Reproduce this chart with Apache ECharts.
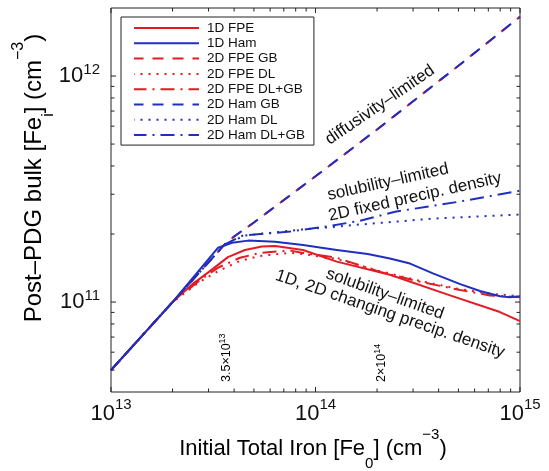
<!DOCTYPE html>
<html>
<head>
<meta charset="utf-8">
<script src="https://cdn.jsdelivr.net/npm/echarts@6/dist/echarts.min.js"></script>
<style>html,body{margin:0;padding:0;background:#fff;}#c{width:549px;height:471px;}</style>
</head>
<body>
<div id="c"></div>
<script>
// ---- data ----
const seriesNames = ['1D FPE', '1D Ham', '2D FPE GB', '2D FPE DL', '2D FPE DL+GB', '2D Ham GB', '2D Ham DL', '2D Ham DL+GB'];

const fpe1dX = [1e13, 2e13, 2.5e13, 2.98e13, 3.73e13, 4.52e13, 5.47e13, 6.34e13, 8.69e13, 1.27e14, 2.31e14, 4.55e14, 7.98e14, 1e15];
const fpe1dY = [5e10, 1e11, 1.2e11, 1.35e11, 1.58e11, 1.70e11, 1.76e11, 1.77e11, 1.70e11, 1.51e11, 1.32e11, 1.07e11, 9.03e10, 8.24e10];

const ham1dX = [1e13, 2e13, 3.34e13, 3.91e13, 4.68e13, 6.34e13, 8.69e13, 1.27e14, 1.8e14, 2.31e14, 2.9e14, 3.75e14, 5.1e14, 6.37e14, 7.98e14, 8.93e14, 1e15];
const ham1dY = [5e10, 1e11, 1.74e11, 1.83e11, 1.87e11, 1.85e11, 1.79e11, 1.70e11, 1.63e11, 1.56e11, 1.48e11, 1.34e11, 1.2e11, 1.12e11, 1.06e11, 1.05e11, 1.06e11];

const fpeGBX = [1e13, 2e13, 3.6e13, 4e13, 5e13, 1e14, 2e14, 5e14, 1e15];
const fpeGBY = [5e10, 1e11, 1.8e11, 1.95e11, 2.25e11, 3.6e11, 5.8e11, 1.11e12, 1.83e12];

const fpeDLX = [1e13, 2e13, 2.72e13, 3.34e13, 4.27e13, 5.36e13, 7.5e13, 8.69e13, 1.27e14, 2.07e14, 3.24e14, 5.1e14, 7.13e14, 1e15];
const fpeDLY = [5e10, 1e11, 1.23e11, 1.37e11, 1.52e11, 1.60e11, 1.65e11, 1.63e11, 1.55e11, 1.37e11, 1.24e11, 1.14e11, 1.09e11, 1.06e11];

const fpeDLGBX = [1e13, 2e13, 2.72e13, 3.34e13, 4.27e13, 5.36e13, 7.5e13, 8.69e13, 1.27e14, 2.07e14, 3.24e14, 5.1e14, 7.13e14, 1e15];
const fpeDLGBY = [5e10, 1e11, 1.25e11, 1.42e11, 1.57e11, 1.65e11, 1.69e11, 1.65e11, 1.57e11, 1.36e11, 1.23e11, 1.13e11, 1.07e11, 1.05e11];

const hamGBX = [1e13, 2e13, 3.6e13, 4e13, 5e13, 1e14, 2e14, 5e14, 1e15];
const hamGBY = [5e10, 1e11, 1.8e11, 1.95e11, 2.25e11, 3.6e11, 5.8e11, 1.11e12, 1.83e12];

const hamDLX = [1e13, 2e13, 3.6e13, 4.52e13, 8.4e13, 1.22e14, 1.52e14, 3.76e14, 1e15];
const hamDLY = [5e10, 1e11, 1.8e11, 1.97e11, 2.09e11, 2.15e11, 2.19e11, 2.34e11, 2.44e11];

const hamDLGBX = [1e13, 2e13, 3.6e13, 4.42e13, 7.5e13, 1.21e14, 1.65e14, 2.45e14, 5.03e14, 1e15];
const hamDLGBY = [5e10, 1e11, 1.8e11, 1.97e11, 2.05e11, 2.18e11, 2.29e11, 2.51e11, 2.78e11, 3.11e11];

// axis ranges and ticks
const X_MIN = 1e13, X_MAX = 1e15, Y_MIN = 4e10, Y_MAX = 2e12;
const xMajorTicks = [1e13, 1e14, 1e15];
const xMinorTicks = [2e13, 3e13, 4e13, 5e13, 6e13, 7e13, 8e13, 9e13, 2e14, 3e14, 4e14, 5e14, 6e14, 7e14, 8e14, 9e14];
const yMajorTicks = [1e11, 1e12];
const yMinorTicks = [5e10, 6e10, 7e10, 8e10, 9e10, 2e11, 3e11, 4e11, 5e11, 6e11, 7e11, 8e11, 9e11];
const markerValues = [3.5e13, 2e14];
const markerLabels = ['{b|3.5×10}{s|13}', '{b|2×10}{s|14}'];

// ---- chart ----
const FONT = '"Liberation Sans", Arial, Helvetica, sans-serif';
const RED = '#e31b23', BLUE = '#1f2fc0';
const DASH = [11, 9], DOT = [2, 6], DASHDOT = [14, 6, 2, 6];

function pairs(xs, ys) { return xs.map((x, i) => [x, ys[i]]); }
function lineSeries(name, xs, ys, color, type, extra) {
  return Object.assign({
    name: name, type: 'line', data: pairs(xs, ys), showSymbol: false, symbol: 'none',
    smooth: false, silent: true,
    lineStyle: { color: color, width: 2, type: type, cap: 'butt', join: 'round' },
    itemStyle: { color: color }
  }, extra || {});
}

const tickData = [].concat(
  xMajorTicks.map(v => [v, Y_MIN, 0]),
  xMinorTicks.map(v => [v, Y_MIN, 1]),
  yMajorTicks.map(v => [X_MIN, v, 2]),
  yMinorTicks.map(v => [X_MIN, v, 3])
);

function powLabel(value) {
  const e = Math.log10(value);
  const r = Math.round(e);
  if (Math.abs(e - r) > 1e-6) return '';
  return '{b|10}{s|' + r + '}';
}

const chart = echarts.init(document.getElementById('c'), null, { renderer: 'canvas' });
const option = {
  animation: false,
  backgroundColor: '#fff',
  textStyle: { fontFamily: FONT },
  grid: { left: 111, right: 29, top: 8, bottom: 79, show: true, borderColor: '#222', borderWidth: 1, backgroundColor: 'transparent' },
  legend: {
    data: seriesNames, orient: 'vertical', left: 121, top: 17,
    itemWidth: 65, itemHeight: 14, itemGap: 1.3,
    padding: [4, 9, 3, 12],
    borderColor: '#222', borderWidth: 1, backgroundColor: '#fff',
    itemStyle: { opacity: 0, borderWidth: 0 },
    textStyle: { fontSize: 13.5, color: '#111', fontFamily: FONT, lineHeight: 14, padding: [0, 0, 0, 3] },
    selectedMode: false
  },
  xAxis: {
    type: 'log', logBase: 10, min: X_MIN, max: X_MAX,
    axisLine: { show: false }, axisTick: { show: false }, splitLine: { show: false },
    axisLabel: {
      formatter: powLabel, margin: 5, color: '#111',
      rich: {
        b: { fontSize: 22, lineHeight: 34, fontFamily: FONT, color: '#111' },
        s: { fontSize: 15, lineHeight: 12, verticalAlign: 'top', fontFamily: FONT, color: '#111' }
      }
    }
  },
  yAxis: {
    type: 'log', logBase: 10, min: Y_MIN, max: Y_MAX,
    axisLine: { show: false }, axisTick: { show: false }, splitLine: { show: false },
    axisLabel: {
      formatter: powLabel, margin: 11, color: '#111',
      rich: {
        b: { fontSize: 22, lineHeight: 28, fontFamily: FONT, color: '#111' },
        s: { fontSize: 15, lineHeight: 12, verticalAlign: 'top', fontFamily: FONT, color: '#111' }
      }
    }
  },
  series: [
    lineSeries('1D FPE', fpe1dX, fpe1dY, RED, 'solid'),
    lineSeries('2D FPE GB', fpeGBX, fpeGBY, RED, DASH, { lineStyle: { color: RED, width: 2, type: DASH, dashOffset: 1.5, cap: 'butt' } }),
    lineSeries('2D FPE DL', fpeDLX, fpeDLY, RED, DOT),
    lineSeries('2D FPE DL+GB', fpeDLGBX, fpeDLGBY, RED, DASHDOT),
    lineSeries('1D Ham', ham1dX, ham1dY, BLUE, 'solid'),
    lineSeries('2D Ham GB', hamGBX, hamGBY, BLUE, DASH),
    lineSeries('2D Ham DL', hamDLX, hamDLY, BLUE, DOT),
    lineSeries('2D Ham DL+GB', hamDLGBX, hamDLGBY, BLUE, DASHDOT),
    {
      name: 'ticks', type: 'custom', silent: true, data: tickData, z: 5,
      renderItem: function (params, api) {
        const xv = api.value(0), yv = api.value(1), kind = api.value(2);
        const len = (kind === 0 || kind === 2) ? 5 : 3.5;
        const st = { stroke: '#222', lineWidth: 1 };
        if (kind < 2) {
          const b = api.coord([xv, Y_MIN]), t = api.coord([xv, Y_MAX]);
          return { type: 'group', children: [
            { type: 'line', shape: { x1: b[0], y1: b[1], x2: b[0], y2: b[1] - len }, style: st },
            { type: 'line', shape: { x1: t[0], y1: t[1], x2: t[0], y2: t[1] + len }, style: st }
          ] };
        }
        const l = api.coord([X_MIN, yv]), r = api.coord([X_MAX, yv]);
        return { type: 'group', children: [
          { type: 'line', shape: { x1: l[0], y1: l[1], x2: l[0] + len, y2: l[1] }, style: st },
          { type: 'line', shape: { x1: r[0], y1: r[1], x2: r[0] - len, y2: r[1] }, style: st }
        ] };
      }
    }
  ]
};
chart.setOption(option);

const xTitleRich = {
  b: { fontSize: 22, lineHeight: 44, fontFamily: FONT, color: '#111' },
  sub: { fontSize: 15, lineHeight: 20, verticalAlign: 'bottom', fontFamily: FONT, color: '#111' },
  sup: { fontSize: 15, lineHeight: 15, verticalAlign: 'top', fontFamily: FONT, color: '#111' }
};
const yTitleRich = {
  b: { fontSize: 24, lineHeight: 46, fontFamily: FONT, color: '#111' },
  sub: { fontSize: 16, lineHeight: 22, verticalAlign: 'bottom', fontFamily: FONT, color: '#111' },
  sup: { fontSize: 16, lineHeight: 14, verticalAlign: 'top', fontFamily: FONT, color: '#111' }
};
const markRich = {
  b: { fontSize: 12.5, lineHeight: 17, fontFamily: FONT, color: '#111' },
  s: { fontSize: 9, lineHeight: 8, verticalAlign: 'top', fontFamily: FONT, color: '#111' }
};
const annStyle = (t) => ({ text: t, fontSize: 17, fontFamily: FONT, fill: '#111', align: 'center', verticalAlign: 'middle' });

const graphics = [
  { type: 'text', x: 313, y: 449, style: { text: '{b|Initial Total Iron [Fe}{sub|0}{b|] (cm}{sup|−3}{b|)}', rich: xTitleRich, align: 'center', verticalAlign: 'middle' } },
  { type: 'text', x: 34, y: 178, rotation: Math.PI / 2, style: { text: '{b|Post–PDG bulk [Fe}{sub|i}{b|] (cm}{sup|−3}{b|)}', rich: yTitleRich, align: 'center', verticalAlign: 'middle' } },
  { type: 'text', x: 380, y: 105, rotation: 0.60, style: annStyle('diffusivity–limited') },
  { type: 'text', x: 388, y: 182, rotation: 0.22, style: annStyle('solubility–limited') },
  { type: 'text', x: 415, y: 197, rotation: 0.22, style: annStyle('2D fixed precip. density') },
  { type: 'text', x: 385, y: 294, rotation: -0.34, style: annStyle('solubility–limited') },
  { type: 'text', x: 390, y: 314, rotation: -0.33, style: annStyle('1D, 2D changing precip. density') }
];
markerValues.forEach((v, i) => {
  const px = chart.convertToPixel({ xAxisIndex: 0 }, v);
  graphics.push({ type: 'text', x: px + 4, y: 382, rotation: Math.PI / 2,
    style: { text: markerLabels[i], rich: markRich, align: 'left', verticalAlign: 'middle' } });
});
chart.setOption({ graphic: graphics });
</script>
</body>
</html>
